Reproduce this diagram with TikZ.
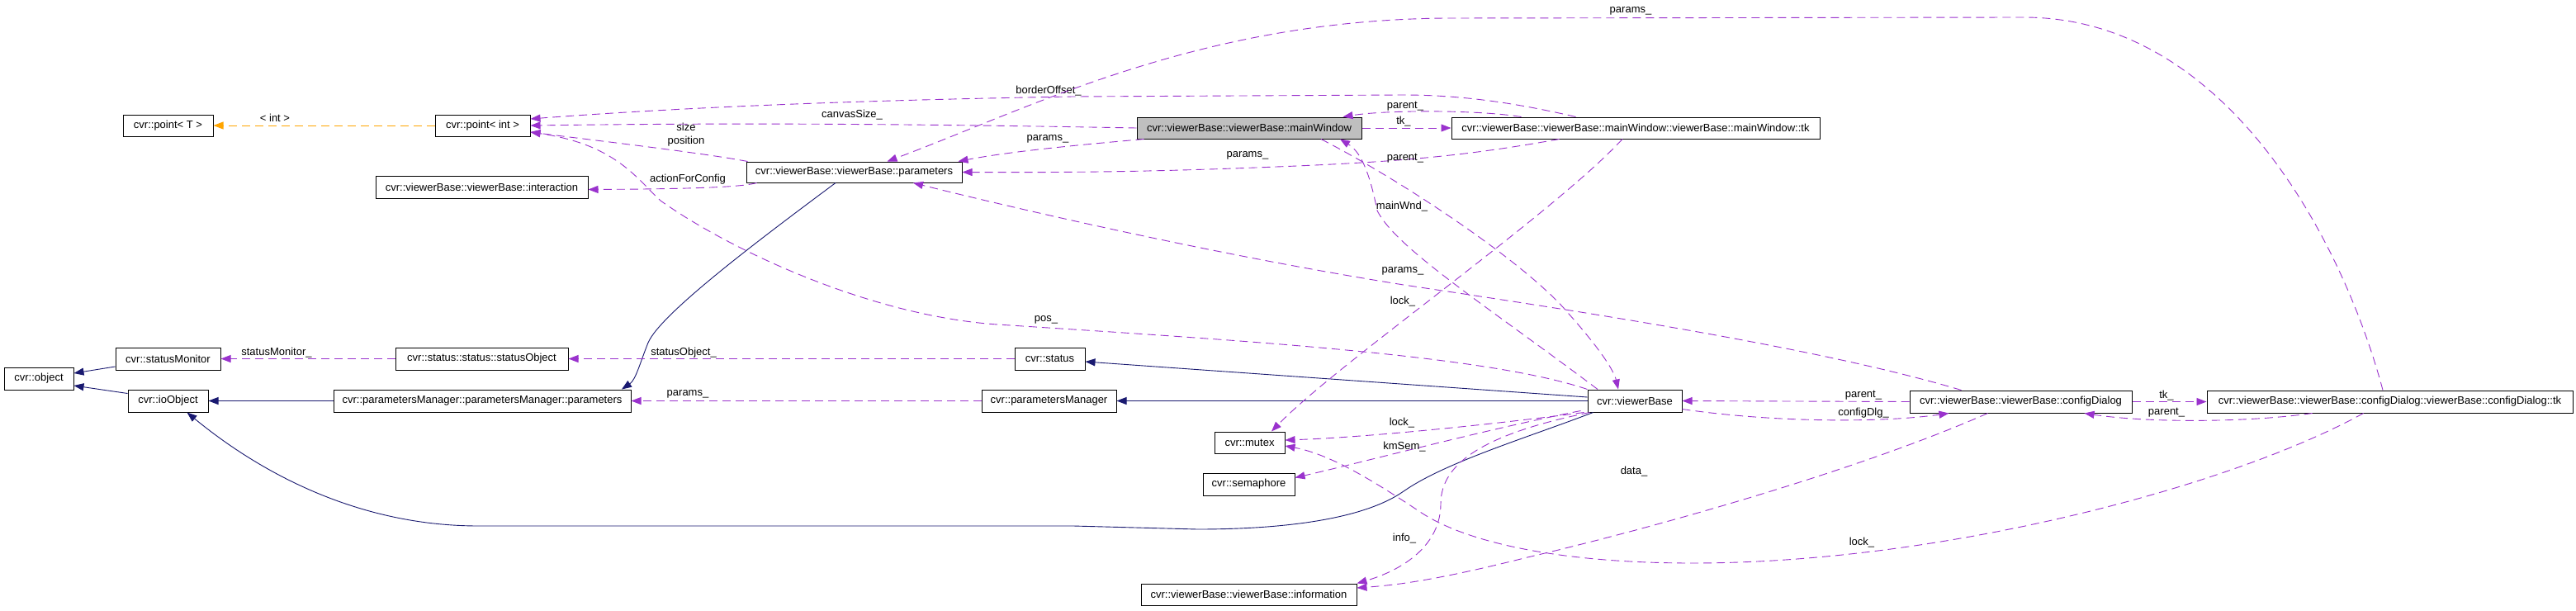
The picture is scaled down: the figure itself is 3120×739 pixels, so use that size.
\documentclass[tikz,border=0pt]{standalone}
\usepackage{fontspec}
\setmainfont{Liberation Sans}
\usetikzlibrary{arrows.meta}
\definecolor{depc}{HTML}{9A32CD}
\definecolor{inhc}{HTML}{191970}
\definecolor{tplc}{HTML}{FFA500}
\definecolor{curc}{HTML}{BFBFBF}
\begin{document}
\begin{tikzpicture}[x=1pt,y=-1pt,
  box/.style={draw=black, line width=1pt, minimum height=26pt, inner sep=0pt, fill=white, font=\fontsize{13}{15}\selectfont},
  lbl/.style={inner sep=0pt, font=\fontsize{13}{16}\selectfont},
  tip/.style={-{Triangle[length=12pt,width=9pt]}},
  depE/.style={tip, draw=depc, line width=0.9pt, dash pattern=on 10pt off 6pt},
  inhE/.style={tip, draw=inhc, line width=0.9pt},
  tplE/.style={tip, draw=tplc, line width=0.9pt, dash pattern=on 10pt off 6pt}
]
\useasboundingbox[fill=white] (0,0) rectangle (3120,739);

% nodes
\node[box, minimum width=109pt] (pT) at (203.5,152) {cvr::point< T >};
\node[box, minimum width=115pt] (pint) at (584.5,152) {cvr::point< int >};
\node[box, minimum width=272pt, fill=curc] (mw) at (1513,155) {cvr::viewerBase::viewerBase::mainWindow};
\node[box, minimum width=446pt] (mwtk) at (1981,155) {cvr::viewerBase::viewerBase::mainWindow::viewerBase::mainWindow::tk};
\node[box, minimum width=261pt, minimum height=25pt] (vbp) at (1034.5,208.5) {cvr::viewerBase::viewerBase::parameters};
\node[box, minimum width=257pt, minimum height=27pt] (inter) at (583.5,226.5) {cvr::viewerBase::viewerBase::interaction};
\node[box, minimum width=127pt, minimum height=27pt] (smon) at (203.5,434.5) {cvr::statusMonitor};
\node[box, minimum width=209pt, minimum height=27pt] (sobj) at (583.5,434.5) {cvr::status::status::statusObject};
\node[box, minimum width=85pt, minimum height=27pt] (status) at (1271.5,434.5) {cvr::status};
\node[box, minimum width=84pt, minimum height=27pt] (obj) at (47,458.5) {cvr::object};
\node[box, minimum width=97pt, minimum height=27pt] (io) at (203.5,485.5) {cvr::ioObject};
\node[box, minimum width=360pt, minimum height=27pt] (pmp) at (584,485.5) {cvr::parametersManager::parametersManager::parameters};
\node[box, minimum width=163pt, minimum height=27pt] (pm) at (1270.5,485.5) {cvr::parametersManager};
\node[box, minimum width=114pt, minimum height=27pt] (vb) at (1980,485.5) {cvr::viewerBase};
\node[box, minimum width=269pt, minimum height=27pt] (cd) at (2447.5,486.5) {cvr::viewerBase::viewerBase::configDialog};
\node[box, minimum width=443pt, minimum height=27pt] (cdtk) at (2894.5,486.5) {cvr::viewerBase::viewerBase::configDialog::viewerBase::configDialog::tk};
\node[box, minimum width=85pt] (mutex) at (1513.5,536) {cvr::mutex};
\node[box, minimum width=111pt, minimum height=27pt] (sem) at (1512.5,586.5) {cvr::semaphore};
\node[box, minimum width=261pt] (info) at (1512.5,720) {cvr::viewerBase::viewerBase::information};

% inheritance
\draw[inhE] ([yshift=-9.5pt]smon.west) -- ([yshift=6.5pt]obj.east);
\draw[inhE] ([yshift=-5pt]io.north west) -- ([yshift=-8.5pt]obj.east);
\draw[inhE] (pmp.west) -- (io.east);
\draw[inhE] ([xshift=-22.5pt]vbp.south) .. controls (920,290) and (800,380) .. (785,415) .. controls (775,440) and (770,460) .. ([xshift=169pt]pmp.north);
\draw[inhE] ([yshift=4.5pt]vb.west) -- ([yshift=-3.5pt]status.east);
\draw[inhE] (vb.west) -- (pm.east);
\draw[inhE] ([xshift=7pt]vb.south west) .. controls (1850,530) and (1750,560) .. (1700,595) .. controls (1650,630) and (1550,641) .. (1450,641) -- (1300,637) -- (580,637) .. controls (420,637) and (300,560) .. ([xshift=23pt]io.south);

% template
\draw[tplE] (pint.west) -- (pT.east);
\node[lbl] at (333,143) {< int >};

% dependencies
\draw[depE] (sobj.west) -- (smon.east);
\node[lbl] at (335,427) {statusMonitor\_};
\draw[depE] (status.west) -- (sobj.east);
\node[lbl] at (828,427) {statusObject\_};
\draw[depE] (pm.west) -- (pmp.east);
\node[lbl] at (833,477) {params\_};

\draw[depE] (mw.west) .. controls (1000,148) and (800,150) .. (pint.east);
\node[lbl] at (1032,139) {canvasSize\_};
\draw[depE] ([xshift=151pt]mwtk.north west) .. controls (1850,128) and (1780,115) .. (1700,115) -- (1300,117) .. controls (1000,122) and (800,132) .. ([yshift=8pt]pint.east);
\node[lbl] at (1270,110) {borderOffset\_};
\draw[depE] ([xshift=85pt]mwtk.north west) .. controls (1790,133) and (1680,133) .. ([xshift=-23pt]mw.north east);
\node[lbl] at (1702,129) {parent\_};
\draw[depE] (mw.east) -- (mwtk.west);
\node[lbl] at (1700,147) {tk\_};
\draw[depE] ([xshift=9pt]mw.south west) .. controls (1300,176) and (1220,184) .. ([xshift=-5pt]vbp.north east);
\node[lbl] at (1269,168) {params\_};
\draw[depE] ([xshift=131pt]mwtk.south west) .. controls (1780,188) and (1700,196) .. (1546,202) .. controls (1400,208) and (1300,209) .. (vbp.east);
\node[lbl] at (1511,188) {params\_};
\draw[depE] ([xshift=-16pt]mwtk.south) .. controls (1880,260) and (1620,440) .. ([xshift=26.5pt]mutex.north);
\node[lbl] at (1699,365) {lock\_};
\draw[depE] ([xshift=2pt]vbp.north west) .. controls (850,185) and (720,170) .. ([yshift=-8pt]pint.east);
\node[lbl, align=center] at (831,163) {size\\position};
\draw[depE] ([xshift=13pt]vbp.south west) .. controls (895,228) and (800,229) .. ([yshift=-3pt]inter.east);
\node[lbl] at (833,217) {actionForConfig};
\draw[depE] (vb.north west) .. controls (1800,430) and (1500,412) .. (1208,393) .. controls (1050,382) and (880,300) .. (800,243) .. controls (770,215) and (745,175) .. ([yshift=-8pt]pint.east);
\node[lbl] at (1267,387) {pos\_};
\draw[depE] ([xshift=-45pt]vb.north) .. controls (1800,370) and (1690,300) .. (1668,255) .. controls (1660,215) and (1650,185) .. ([xshift=110pt]mw.south);
\node[lbl] at (1698,250) {mainWnd\_};
\draw[depE] ([xshift=87pt]mw.south) .. controls (1700,220) and (1850,320) .. (1900,380) .. controls (1940,425) and (1955,450) .. ([xshift=-20pt]vb.north);
\node[lbl] at (1702,192) {parent\_};
\draw[depE] ([xshift=-72pt]cd.north) .. controls (2200,420) and (1900,375) .. (1700,345) .. controls (1450,305) and (1200,245) .. ([xshift=71.5pt]vbp.south);
\node[lbl] at (1699,328) {params\_};
\draw[depE] ([xshift=-4pt]vb.south west) .. controls (1800,515) and (1650,530) .. ([yshift=3pt]mutex.east);
\node[lbl] at (1698,512) {lock\_};
\draw[depE] ([xshift=-8pt,yshift=2pt]vb.south west) .. controls (1800,520) and (1650,560) .. ([yshift=8pt]sem.east);
\node[lbl] at (1701,541) {kmSem\_};
\draw[depE] ([xshift=3pt]vb.south west) .. controls (1800,525) and (1745,560) .. (1745,610) .. controls (1745,660) and (1700,690) .. (info.north east);
\node[lbl] at (1701,652) {info\_};
\draw[depE] ([xshift=-40pt]cd.south) .. controls (2250,570) and (2000,640) .. (1850,675) .. controls (1750,700) and (1700,708) .. ([yshift=8pt]info.east);
\node[lbl] at (1979,571) {data\_};
\draw[depE] ([xshift=-32pt]cdtk.south) .. controls (2700,590) and (2350,682) .. (2050,682) .. controls (1900,682) and (1780,660) .. (1720,620) .. controls (1660,580) and (1610,550) .. ([yshift=-4pt]mutex.east);
\node[lbl] at (2255,657) {lock\_};
\draw[depE] (cd.west) -- (vb.east);
\node[lbl] at (2257,479) {parent\_};
\draw[depE] ([yshift=-10pt]vb.east) .. controls (2150,512) and (2280,512) .. ([xshift=-87pt]cd.south);
\node[lbl] at (2257,500) {configDlg\_};
\draw[depE] (cd.east) -- (cdtk.west);
\node[lbl] at (2624,479) {tk\_};
\draw[depE] ([xshift=-94pt]cdtk.south) .. controls (2720,512) and (2600,512) .. ([xshift=77pt]cd.south);
\node[lbl] at (2624,500) {parent\_};
\draw[depE] ([xshift=-8.5pt]cdtk.north) .. controls (2840,300) and (2700,20) .. (2450,21) -- (1750,22) .. controls (1450,25) and (1250,130) .. ([xshift=40pt]vbp.north);
\node[lbl] at (1975,13) {params\_};
\end{tikzpicture}
\end{document}
